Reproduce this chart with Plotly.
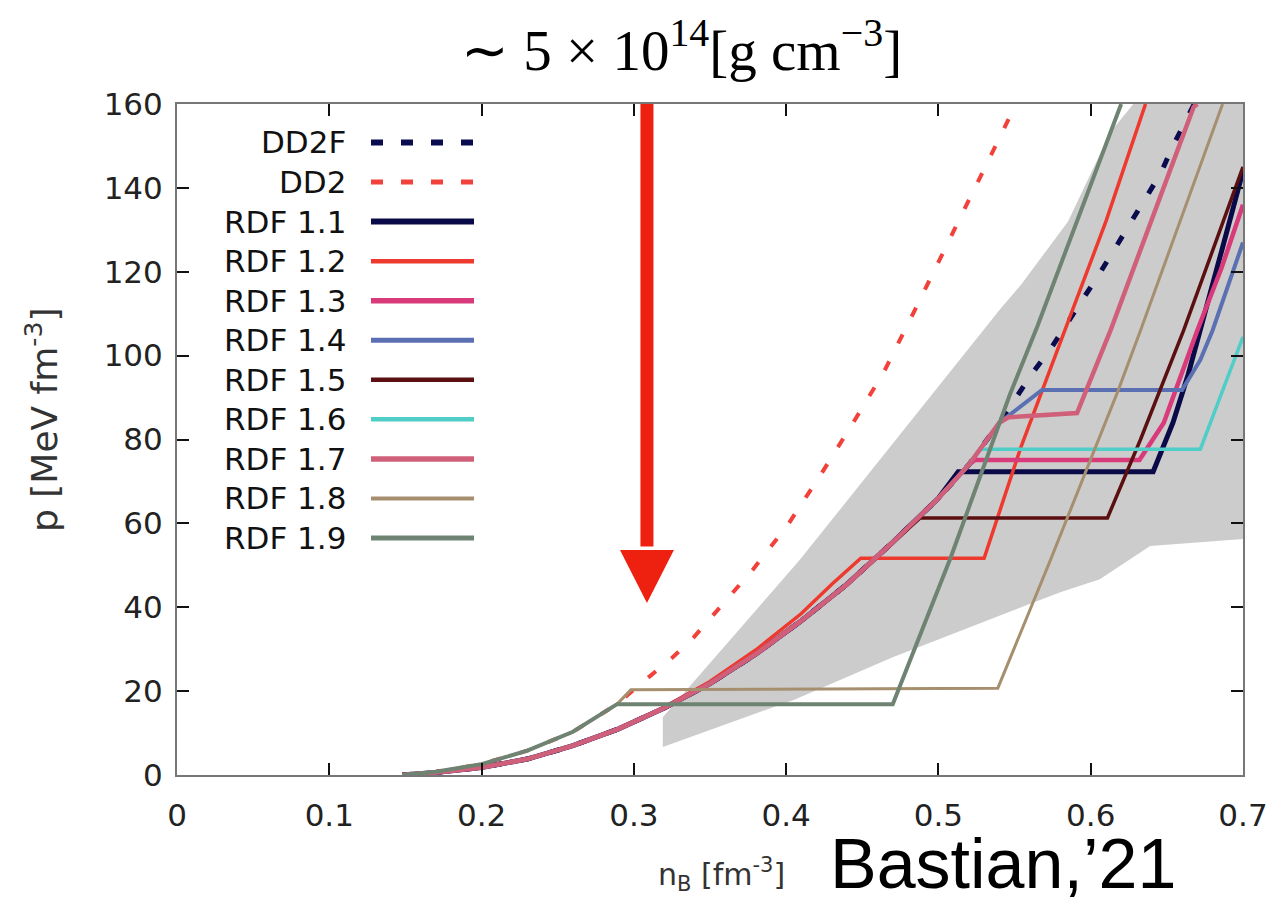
import plotly.graph_objects as go

# ---------------- data ----------------
dd2f_x = [0.148, 0.17, 0.20, 0.23, 0.26, 0.29, 0.32, 0.35, 0.38, 0.41, 0.44, 0.47, 0.50, 0.52, 0.54,
          0.551, 0.562, 0.574, 0.585, 0.595, 0.606, 0.616, 0.626, 0.636, 0.646, 0.654, 0.664, 0.668]
dd2f_y = [0, 0.6, 1.8, 3.8, 7.0, 11.0, 16.0, 21.8, 28.8, 36.8, 45.5, 55.5, 66.0, 74.0, 84.0,
          90.0, 96.0, 101.8, 107.8, 113.7, 119.7, 125.6, 131.6, 137.8, 143.5, 150.0, 157.4, 160.0]

dd2_x = [0.148, 0.17, 0.20, 0.23, 0.26, 0.289, 0.306, 0.325, 0.339, 0.352, 0.365, 0.378, 0.401,
         0.4225, 0.444, 0.464, 0.482, 0.499, 0.516, 0.534, 0.551]
dd2_y = [0, 0.8, 2.6, 5.8, 10.3, 16.9, 22.2, 27.9, 32.7, 38.1, 43.4, 48.9, 59.6,
         71.5, 84.0, 96.0, 109.0, 121.6, 134.0, 147.0, 160.0]

rdf11_x = [0.148, 0.17, 0.20, 0.23, 0.26, 0.29, 0.32, 0.35, 0.38, 0.41, 0.44, 0.47, 0.50,
           0.513, 0.641, 0.654, 0.664, 0.672, 0.686, 0.70]
rdf11_y = [0, 0.6, 1.8, 3.8, 7.0, 11.0, 16.0, 21.8, 28.8, 36.8, 45.5, 55.5, 66.0,
           72.3, 72.3, 84.0, 95.5, 106.0, 125.0, 144.0]

rdf12_x = [0.148, 0.17, 0.20, 0.23, 0.26, 0.29, 0.32, 0.35, 0.38, 0.41, 0.43, 0.449,
           0.530, 0.539, 0.554, 0.583, 0.610, 0.636]
rdf12_y = [0, 0.6, 1.8, 3.8, 7.0, 11.0, 16.2, 22.3, 29.8, 38.5, 45.5, 51.7,
           51.7, 61.6, 78.0, 106.0, 132.0, 160.0]

rdf13_x = [0.148, 0.17, 0.20, 0.23, 0.26, 0.29, 0.32, 0.35, 0.38, 0.41, 0.44, 0.47, 0.50, 0.52,
           0.524, 0.632, 0.648, 0.670, 0.686, 0.70]
rdf13_y = [0, 0.6, 1.8, 3.8, 7.0, 11.0, 16.0, 21.8, 28.8, 36.8, 45.5, 55.5, 66.0, 74.0,
           75.1, 75.1, 84.0, 106.0, 121.0, 136.0]

rdf14_x = [0.148, 0.17, 0.20, 0.23, 0.26, 0.29, 0.32, 0.35, 0.38, 0.41, 0.44, 0.47, 0.50, 0.52, 0.54,
           0.568, 0.660, 0.672, 0.680, 0.70]
rdf14_y = [0, 0.6, 1.8, 3.8, 7.0, 11.0, 16.0, 21.8, 28.8, 36.8, 45.5, 55.5, 66.0, 74.0, 84.0,
           91.8, 91.8, 99.0, 106.0, 127.0]

rdf15_x = [0.148, 0.17, 0.20, 0.23, 0.26, 0.29, 0.32, 0.35, 0.38, 0.41, 0.44, 0.47,
           0.488, 0.611, 0.6327, 0.661, 0.672, 0.70]
rdf15_y = [0, 0.6, 1.8, 3.8, 7.0, 11.0, 16.0, 21.8, 28.8, 36.8, 45.5, 55.5,
           61.3, 61.3, 80.0, 106.0, 117.0, 145.0]

rdf16_x = [0.148, 0.17, 0.20, 0.23, 0.26, 0.29, 0.32, 0.35, 0.38, 0.41, 0.44, 0.47, 0.50, 0.52,
           0.527, 0.672, 0.70]
rdf16_y = [0, 0.6, 1.8, 3.8, 7.0, 11.0, 16.0, 21.8, 28.8, 36.8, 45.5, 55.5, 66.0, 74.0,
           77.7, 77.7, 104.5]

rdf17_x = [0.148, 0.17, 0.20, 0.23, 0.26, 0.29, 0.32, 0.35, 0.38, 0.41, 0.44, 0.47, 0.50, 0.52, 0.54,
           0.546, 0.591, 0.613, 0.6676, 0.670]
rdf17_y = [0, 0.6, 1.8, 3.8, 7.0, 11.0, 16.0, 21.8, 28.8, 36.8, 45.5, 55.5, 66.0, 74.0, 84.0,
           85.3, 86.3, 106.0, 159.3, 160.0]

rdf18_x = [0.148, 0.17, 0.20, 0.23, 0.26, 0.289, 0.298, 0.539, 0.5736, 0.6176, 0.6327, 0.6866]
rdf18_y = [0, 0.8, 2.6, 5.8, 10.3, 16.9, 20.3, 20.7, 51.3, 91.3, 106.0, 160.0]

rdf19_x = [0.148, 0.17, 0.20, 0.23, 0.26, 0.289, 0.470, 0.508, 0.547, 0.565, 0.620]
rdf19_y = [0, 0.8, 2.6, 5.8, 10.3, 16.9, 16.9, 51.8, 90.8, 107.0, 160.0]

# grey constraint band: upper edge (left->right) and lower edge (right->left)
band_upper_x = [0.319, 0.319, 0.409, 0.541, 0.554, 0.585, 0.613, 0.628, 0.70]
band_upper_y = [6.7, 13.8, 51.3, 111.3, 116.8, 131.9, 153.3, 160.0, 160.0]
band_lower_x = [0.70, 0.639, 0.606, 0.580, 0.470, 0.405, 0.319]
band_lower_y = [56.3, 54.6, 46.7, 43.6, 28.1, 17.9, 6.7]

series_names = ["DD2F", "DD2", "RDF 1.1", "RDF 1.2", "RDF 1.3", "RDF 1.4",
                "RDF 1.5", "RDF 1.6", "RDF 1.7", "RDF 1.8", "RDF 1.9"]
series_x = [dd2f_x, dd2_x, rdf11_x, rdf12_x, rdf13_x, rdf14_x,
            rdf15_x, rdf16_x, rdf17_x, rdf18_x, rdf19_x]
series_y = [dd2f_y, dd2_y, rdf11_y, rdf12_y, rdf13_y, rdf14_y,
            rdf15_y, rdf16_y, rdf17_y, rdf18_y, rdf19_y]

x_ticks = [0, 0.1, 0.2, 0.3, 0.4, 0.5, 0.6, 0.7]
y_ticks = [0, 20, 40, 60, 80, 100, 120, 140, 160]

# ---------------- styles ----------------
colors = ["#0b0b4f", "#f2403a", "#0a0a48", "#ee3a2e", "#d93a7a", "#5b70b3",
          "#5c0f10", "#4fcdc6", "#d0607a", "#a58f6f", "#6f8373"]
widths = [5, 4, 5, 3.5, 4.5, 4, 3.5, 3.5, 4.5, 3, 4]
dashes = ["10px,20px", "10px,20px"] + ["solid"] * 9

# pixel geometry (window pixels); the page body adds an 8 px offset
OFF = 8
WIN_W, WIN_H = 1285, 903
L, R, T, B = 177, 1243, 104, 775
FIG_W, FIG_H = WIN_W - OFF, WIN_H - OFF


def px_to_paper_x(px):
    return (px - L) / (R - L)


def px_to_paper_y(py):
    return (B - py) / (B - T)


fig = go.Figure()

fig.add_trace(go.Scatter(
    x=band_upper_x + band_lower_x, y=band_upper_y + band_lower_y,
    mode="lines", fill="toself", fillcolor="#cccccc",
    line=dict(width=0, color="#cccccc"), hoverinfo="skip", showlegend=False))

for name, xs, ys, c, w, d in zip(series_names, series_x, series_y, colors, widths, dashes):
    fig.add_trace(go.Scatter(x=xs, y=ys, mode="lines", name=name,
                             line=dict(color=c, width=w, dash=d),
                             showlegend=False))

shapes = []
annotations = []

# custom legend (text right-aligned, line sample to its right)
leg_y0, leg_dy = 142.5, 39.55
for i, (name, c, w, d) in enumerate(zip(series_names, colors, widths, dashes)):
    py = leg_y0 + i * leg_dy
    annotations.append(dict(
        text=name, xref="paper", yref="paper",
        x=px_to_paper_x(348), y=px_to_paper_y(py),
        xanchor="right", yanchor="middle", showarrow=False,
        font=dict(family="DejaVu Sans", size=31, color="#111111")))
    shapes.append(dict(
        type="line", xref="paper", yref="paper",
        x0=px_to_paper_x(371), x1=px_to_paper_x(474),
        y0=px_to_paper_y(py), y1=px_to_paper_y(py),
        line=dict(color=c, width=w + 1, dash=("12px,18px" if d != "solid" else "solid"))))

# red arrow
arrow_x = 0.3086
shapes.append(dict(type="line", xref="x", yref="y", x0=arrow_x, x1=arrow_x, y0=160, y1=54.5,
                   line=dict(color="#ee2010", width=13), layer="above"))
shapes.append(dict(type="path", xref="x", yref="y",
                   path=f"M {arrow_x - 0.0177},53.65 L {arrow_x + 0.0177},53.65 L {arrow_x},41.0 Z",
                   fillcolor="#ee2010", line=dict(width=0), layer="above"))

# texts
annotations.append(dict(
    text="∼ 5 × 10<sup>14</sup>[g cm<sup>−3</sup>]",
    xref="paper", yref="paper", x=px_to_paper_x(681), y=px_to_paper_y(46),
    xanchor="center", yanchor="middle", showarrow=False,
    font=dict(family="Liberation Serif", size=57, color="#000000")))
annotations.append(dict(
    text="Bastian,’21",
    xref="paper", yref="paper", x=px_to_paper_x(828), y=px_to_paper_y(864),
    xanchor="left", yanchor="middle", showarrow=False,
    font=dict(family="Liberation Sans", size=70, color="#000000")))
annotations.append(dict(
    text="n<sub>B</sub> [fm<sup>-3</sup>]",
    xref="paper", yref="paper", x=px_to_paper_x(721), y=px_to_paper_y(874),
    xanchor="center", yanchor="middle", showarrow=False,
    font=dict(family="DejaVu Sans", size=30, color="#333333")))
annotations.append(dict(
    text="p [MeV fm<sup>-3</sup>]", textangle=-90,
    xref="paper", yref="paper", x=px_to_paper_x(42), y=px_to_paper_y(420),
    xanchor="center", yanchor="middle", showarrow=False,
    font=dict(family="DejaVu Sans", size=36, color="#333333")))

axis_common = dict(
    showgrid=False, zeroline=False, showline=True, linecolor="#777777", linewidth=2,
    mirror="ticks", ticks="inside", ticklen=12, tickwidth=2, tickcolor="#111111",
    tickfont=dict(family="DejaVu Sans", size=31, color="#222222"))

fig.update_layout(
    width=FIG_W, height=FIG_H, autosize=False,
    margin=dict(l=L - OFF, r=FIG_W - (R - OFF), t=T - OFF, b=FIG_H - (B - OFF), pad=0),
    paper_bgcolor="white", plot_bgcolor="white",
    font=dict(family="DejaVu Sans"),
    xaxis=dict(range=[0, 0.7], tickvals=x_ticks, ticktext=[f"{v:g}" for v in x_ticks],
               ticklabelstandoff=12, **axis_common),
    yaxis=dict(range=[0, 160], tickvals=y_ticks, ticktext=[str(v) for v in y_ticks],
               ticklabelstandoff=6, **axis_common),
    shapes=shapes, annotations=annotations, showlegend=False)

fig.write_html("out.html")
